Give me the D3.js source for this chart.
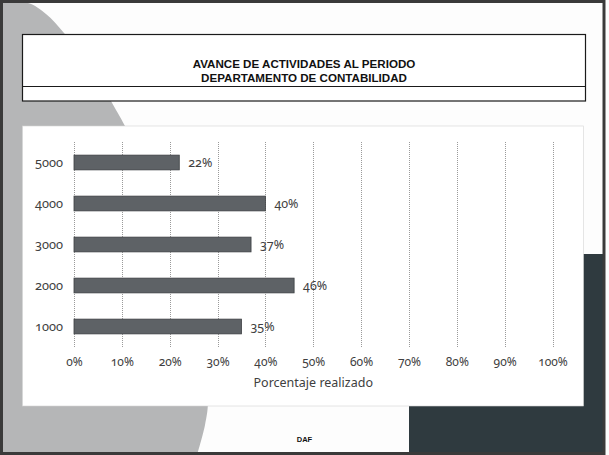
<!DOCTYPE html>
<html>
<head>
<meta charset="utf-8">
<script src="https://cdn.jsdelivr.net/npm/d3@7"></script>
<style>
  html, body { margin: 0; padding: 0; background: #fdfdfd; }
  svg { display: block; }
  .num { font-variant-numeric: oldstyle-nums; font-feature-settings: "onum" 1; }
</style>
</head>
<body>
<div id="chart"></div>
<script>
// ---- data ----
const categories = ["5000", "4000", "3000", "2000", "1000"];
const values = [0.22, 0.40, 0.37, 0.46, 0.35];
const valueLabels = ["22%", "40%", "37%", "46%", "35%"];
const xTicks = [0, 0.1, 0.2, 0.3, 0.4, 0.5, 0.6, 0.7, 0.8, 0.9, 1.0];
const xTickLabels = ["0%", "10%", "20%", "30%", "40%", "50%", "60%", "70%", "80%", "90%", "100%"];
const titleLines = ["AVANCE DE ACTIVIDADES AL PERIODO", "DEPARTAMENTO DE CONTABILIDAD"];
const xAxisTitle = "Porcentaje realizado";
const footer = "DAF";

const W = 609, H = 455;
const svg = d3.select("#chart").append("svg").attr("width", W).attr("height", H);

// background
svg.append("rect").attr("width", W).attr("height", H).attr("fill", "#fdfdfd");

// decorative gray shape (left)
const shapePts = [[3,3],[28,3],[46,14],[64,33],[94,70],[111,101],[125,126],[152,180],[173,230],[200,330],[208,400],[205,425],[197,455]];
const line = d3.line().curve(d3.curveCatmullRom);
svg.append("path")
  .attr("d", line(shapePts) + "L3,455Z")
  .attr("fill", "#b5b6b7");

// dark rectangle (bottom right)
svg.append("rect").attr("x", 409).attr("y", 254).attr("width", 195).attr("height", 199)
  .attr("fill", "#2f3a3f");

// header box
svg.append("rect").attr("x", 22.5).attr("y", 34.5).attr("width", 563).attr("height", 66.5)
  .attr("fill", "#ffffff").attr("stroke", "#1a1a1a").attr("stroke-width", 1.2);
svg.append("line").attr("x1", 22.5).attr("x2", 585.5).attr("y1", 86.5).attr("y2", 86.5)
  .attr("stroke", "#1a1a1a").attr("stroke-width", 1.2);
svg.selectAll("text.title").data(titleLines).join("text")
  .attr("class", "title")
  .attr("x", 304).attr("y", (d, i) => 68 + i * 14)
  .attr("text-anchor", "middle")
  .attr("font-family", "'Liberation Sans', Arial, sans-serif")
  .attr("font-weight", "bold").attr("font-size", "11.6px")
  .attr("fill", "#111").text(d => d);

// white chart panel
svg.append("rect").attr("x", 22.5).attr("y", 126).attr("width", 561).attr("height", 280)
  .attr("fill", "#ffffff").attr("stroke", "#d4d4d4").attr("stroke-width", 0.6);

// footer text
svg.append("text").attr("x", 304.5).attr("y", 441.5).attr("text-anchor", "middle")
  .attr("font-family", "'Liberation Sans', Arial, sans-serif")
  .attr("font-weight", "bold").attr("font-size", "7.5px").attr("fill", "#111").text(footer);

// outer frame
svg.append("rect").attr("x", 1.5).attr("y", 1.5).attr("width", 602.5).attr("height", 452)
  .attr("fill", "none").attr("stroke", "#3a3a3a").attr("stroke-width", 3);

// ---- chart ----
const x = d3.scaleLinear().domain([0, 1]).range([74, 552.5]);
const y = d3.scaleBand().domain(categories).range([142, 347]).paddingInner(0.64).paddingOuter(0.32);
const font = "'Noto Sans', 'Open Sans', sans-serif";

// gridlines
svg.append("g").selectAll("line").data(xTicks).join("line")
  .attr("x1", d => Math.round(x(d)) + 0.5).attr("x2", d => Math.round(x(d)) + 0.5)
  .attr("y1", 142).attr("y2", 347)
  .attr("stroke", "#9a9a9a").attr("stroke-width", 1).attr("stroke-dasharray", "1,1");

// x axis labels
const xAxis = d3.axisBottom(x).tickValues(xTicks).tickFormat((d, i) => xTickLabels[i]).tickSize(0).tickPadding(0);
const gx = svg.append("g").attr("transform", "translate(0,357)").call(xAxis);
gx.select(".domain").remove();
gx.selectAll("text").attr("class", "num").attr("font-family", font).attr("font-size", "12px").attr("fill", "#404040").attr("dy", "0.71em");

// y axis labels
const yAxis = d3.axisLeft(y).tickSize(0).tickPadding(11);
const gy = svg.append("g").attr("transform", "translate(74,0)").call(yAxis);
gy.select(".domain").remove();
gy.selectAll("text").attr("class", "num").attr("font-family", font).attr("font-size", "12.8px").attr("fill", "#404040");

// bars
const data = categories.map((c, i) => ({ c, v: values[i], l: valueLabels[i] }));
svg.append("g").selectAll("rect").data(data).join("rect")
  .attr("x", x(0)).attr("y", d => y(d.c))
  .attr("width", d => x(d.v) - x(0)).attr("height", y.bandwidth())
  .attr("fill", "#5e6266").attr("stroke", "#3c3f42").attr("stroke-width", 0.8);

// value labels
svg.append("g").selectAll("text").data(data).join("text")
  .attr("class", "num")
  .attr("x", d => x(d.v) + 9).attr("y", d => y(d.c) + y.bandwidth() / 2)
  .attr("dy", "0.35em")
  .attr("font-family", font).attr("font-size", "12.5px").attr("fill", "#404040")
  .text(d => d.l);

// axis title
svg.append("text").attr("x", (x(0) + x(1)) / 2).attr("y", 387).attr("text-anchor", "middle")
  .attr("font-family", font).attr("font-size", "12.5px").attr("fill", "#404040").text(xAxisTitle);
</script>
</body>
</html>
